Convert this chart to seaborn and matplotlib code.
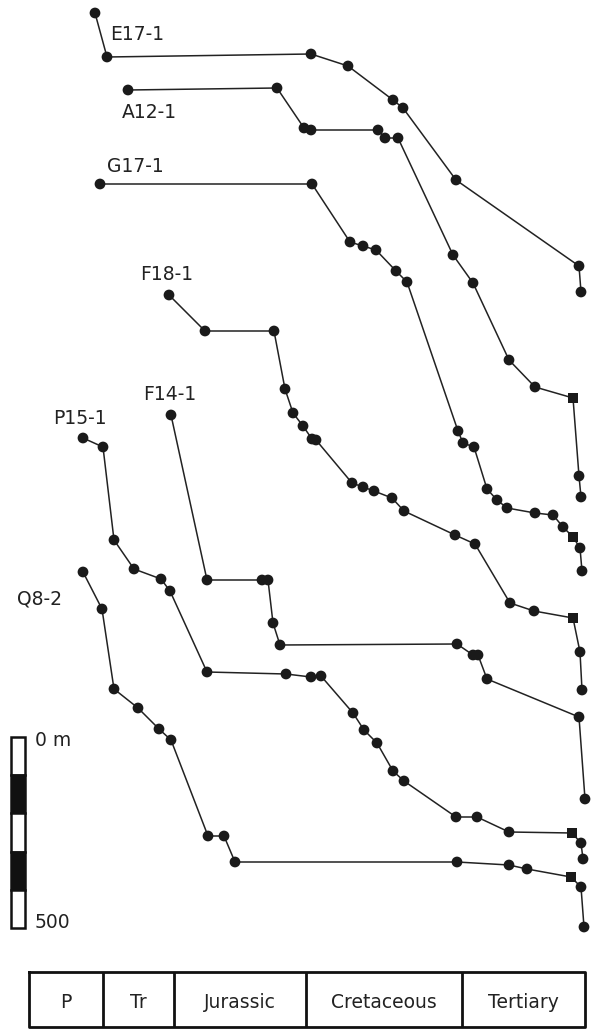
import numpy as np
import pandas as pd
import seaborn as sns
import matplotlib.pyplot as plt

# burial paths per well (x = time position, y = depth position)
wells = ["E17-1", "A12-1", "G17-1", "F18-1", "F14-1", "P15-1", "Q8-2"]

e17_x = [95, 107, 311, 348, 393, 403, 456, 579, 581]
e17_y = [13, 57, 54, 66, 100, 108, 180, 266, 292]

a12_x = [128, 277, 304, 311, 378, 385, 398, 453, 473, 509, 535, 573, 579, 581]
a12_y = [90, 88, 128, 130, 130, 138, 138, 255, 283, 360, 387, 398, 476, 497]

g17_x = [100, 312, 350, 363, 376, 396, 407, 458, 463, 474, 487, 497, 507, 535, 553, 563, 573, 580, 582]
g17_y = [184, 184, 242, 246, 250, 271, 282, 431, 443, 447, 489, 500, 508, 513, 515, 527, 537, 548, 571]

f18_x = [169, 205, 274, 285, 293, 303, 312, 316, 352, 363, 374, 392, 404, 455, 475, 510, 534, 573, 580, 582]
f18_y = [295, 331, 331, 389, 413, 426, 439, 440, 483, 487, 491, 498, 511, 535, 544, 603, 611, 618, 652, 690]

f14_x = [171, 207, 262, 268, 273, 280, 457, 473, 478, 487, 579, 585]
f14_y = [415, 580, 580, 580, 623, 645, 644, 655, 655, 679, 717, 799]

p15_x = [83, 103, 114, 134, 161, 170, 207, 286, 311, 321, 353, 364, 377, 393, 404, 456, 477, 509, 572, 581, 583]
p15_y = [438, 447, 540, 569, 579, 591, 672, 674, 677, 676, 713, 730, 743, 771, 781, 817, 817, 832, 833, 843, 859]

q8_x = [83, 102, 114, 138, 159, 171, 208, 224, 235, 457, 509, 527, 571, 581, 584]
q8_y = [572, 609, 689, 708, 729, 740, 836, 836, 862, 862, 865, 869, 877, 887, 927]

# index of the square marker in each well
square_idx = {"A12-1": 11, "G17-1": 16, "F18-1": 17, "P15-1": 18, "Q8-2": 12}

label_pos = {"E17-1": (110, 34), "A12-1": (122, 112), "G17-1": (107, 167),
             "F18-1": (140, 274), "F14-1": (143, 395), "P15-1": (53, 418),
             "Q8-2": (17, 599)}

periods = ["P", "Tr", "Jurassic", "Cretaceous", "Tertiary"]
period_edges = [29, 103, 174, 306, 462, 585]

scale_m = [0, 100, 200, 300, 400, 500]

xs = [e17_x, a12_x, g17_x, f18_x, f14_x, p15_x, q8_x]
ys = [e17_y, a12_y, g17_y, f18_y, f14_y, p15_y, q8_y]
rows = []
for w, x, y in zip(wells, xs, ys):
    for i, (a, b) in enumerate(zip(x, y)):
        kind = "square" if square_idx.get(w) == i else "circle"
        rows.append({"well": w, "order": i, "x": a, "y": b, "kind": kind})
df = pd.DataFrame(rows)

plt.rcParams['font.family'] = ['DejaVu Sans']
fig = plt.figure(figsize=(5.93, 10.31), dpi=100)
ax = fig.add_axes([0, 0, 1, 1])

sns.lineplot(data=df, x="x", y="y", units="well", estimator=None, sort=False,
             color="#222222", linewidth=1.1, ax=ax, legend=False)
sns.scatterplot(data=df, x="x", y="y", style="kind",
                markers={"circle": "o", "square": "s"}, s=60,
                color="#1a1a1a", edgecolor="#1a1a1a", linewidth=0,
                ax=ax, legend=False, zorder=3)

for w in wells:
    lx, ly = label_pos[w]
    ax.text(lx, ly, w, fontsize=13.5, color="#222222", ha="left", va="center")

# scale bar
px_per_m = (928 - 737) / 500
for i in range(len(scale_m) - 1):
    top = 737 + scale_m[i] * px_per_m
    h = (scale_m[i + 1] - scale_m[i]) * px_per_m
    ax.bar(17.5, h, bottom=top, width=14, color="#111111" if i % 2 else "white",
           edgecolor="#111111", linewidth=1.8)
ax.text(35, 741, "0 m", fontsize=13.5, color="#222222", va="center")
ax.text(35, 923, "500", fontsize=13.5, color="#222222", va="center")

# time scale box
box_top, box_bot = 972, 1027
ax.plot([period_edges[0], period_edges[-1], period_edges[-1], period_edges[0], period_edges[0]],
        [box_top, box_top, box_bot, box_bot, box_top], color="#111111", linewidth=2)
ax.vlines(period_edges[1:-1], box_top, box_bot, color="#111111", linewidth=2)
for i, p in enumerate(periods):
    ax.text((period_edges[i] + period_edges[i + 1]) / 2, 1002, p, fontsize=13.5,
            color="#222222", ha="center", va="center")

ax.set_xlim(0, 593)
ax.set_ylim(1031, 0)
ax.axis("off")
fig.savefig("out.png", dpi=100)
